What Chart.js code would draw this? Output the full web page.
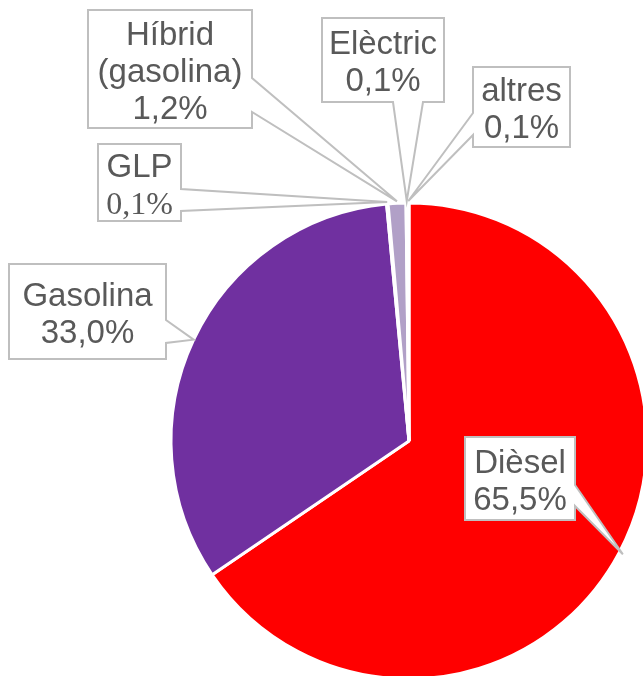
<!DOCTYPE html>
<html>
<head>
<meta charset="utf-8">
<script src="https://cdn.jsdelivr.net/npm/chart.js@4.4.1/dist/chart.umd.min.js"></script>
<style>
  html, body { margin: 0; background: #fff; overflow: hidden; }
  canvas { display: block; }
</style>
</head>
<body>
<canvas id="myChart" width="660" height="700"></canvas>
<script>
// data
const categories = ['Dièsel', 'Gasolina', 'GLP', 'Híbrid (gasolina)', 'Elèctric', 'altres'];
const shares = [65.5, 33.0, 0.1, 1.2, 0.1, 0.1]; // %
const sliceColors = ['#ff0000', '#7030a0', '#a5a5a5', '#b1a0c7', '#4bacc6', '#f79646'];
const labelLines = [['Dièsel'], ['Gasolina'], ['GLP'], ['Híbrid', '(gasolina)'], ['Elèctric'], ['altres']];

// callout boxes (x, y, w, h, side where the pointer leaves, pointer base p0..p1, tip offset)
const callouts = [
    { x: 465, y: 437, w: 110, h: 83, side: 'right', p0: 485, p1: 506, off: 4 },
    { x: 9, y: 264, w: 157, h: 95, side: 'right', p0: 320, p1: 343, off: 0 },
    { x: 98, y: 144, w: 83, h: 77, side: 'right', p0: 189, p1: 211, off: 2, serifValue: true },
    { x: 88, y: 10, w: 164, h: 118, side: 'right', p0: 78, p1: 112, off: 2 },
    { x: 322, y: 18, w: 122, h: 84, side: 'bottom', p0: 393, p1: 423, off: 2 },
    { x: 473, y: 67, w: 97, h: 80, side: 'left', p0: 113, p1: 135, off: 2 }
];

function fmtPct(v) {
    return v.toFixed(1).replace('.', ',') + '%';
}

function calloutPath(ctx, b, tip) {
    const L = b.x, T = b.y, R = b.x + b.w, B = b.y + b.h;
    ctx.beginPath();
    ctx.moveTo(L, T);
    if (b.side === 'top') { ctx.lineTo(b.p0, T); ctx.lineTo(tip.x, tip.y); ctx.lineTo(b.p1, T); }
    ctx.lineTo(R, T);
    if (b.side === 'right') { ctx.lineTo(R, b.p0); ctx.lineTo(tip.x, tip.y); ctx.lineTo(R, b.p1); }
    ctx.lineTo(R, B);
    if (b.side === 'bottom') { ctx.lineTo(b.p1, B); ctx.lineTo(tip.x, tip.y); ctx.lineTo(b.p0, B); }
    ctx.lineTo(L, B);
    if (b.side === 'left') { ctx.lineTo(L, b.p1); ctx.lineTo(tip.x, tip.y); ctx.lineTo(L, b.p0); }
    ctx.closePath();
}

const calloutPlugin = {
    id: 'callouts',
    afterDatasetsDraw(chart) {
        const ctx = chart.ctx;
        const meta = chart.getDatasetMeta(0);
        const fs = 33, lh = 37;
        ctx.save();
        meta.data.forEach((arc, i) => {
            const b = callouts[i];
            const p = arc.getProps(['x', 'y', 'startAngle', 'endAngle', 'outerRadius'], true);
            const mid = (p.startAngle + p.endAngle) / 2;
            const r = p.outerRadius + b.off;
            const tip = { x: p.x + Math.cos(mid) * r, y: p.y + Math.sin(mid) * r };

            calloutPath(ctx, b, tip);
            ctx.fillStyle = '#ffffff';
            ctx.fill();
            ctx.strokeStyle = '#bfbfbf';
            ctx.lineWidth = 2;
            ctx.lineJoin = 'miter';
            ctx.stroke();

            const lines = labelLines[i].concat([fmtPct(chart.data.datasets[0].data[i])]);
            const cx = b.x + b.w / 2;
            const cy = b.y + b.h / 2 + 1;
            ctx.fillStyle = '#595959';
            ctx.textAlign = 'center';
            ctx.textBaseline = 'alphabetic';
            lines.forEach((t, k) => {
                const isValue = k === lines.length - 1;
                const size = (isValue && b.serifValue) ? 32 : fs;
                ctx.font = (isValue && b.serifValue ? size + 'px "Liberation Serif", "Times New Roman", serif'
                                                    : size + 'px "Liberation Sans", Arial, sans-serif');
                const base = cy + (k - (lines.length - 1) / 2) * lh + 0.355 * fs;
                ctx.fillText(t, cx, base);
            });
        });
        ctx.restore();
    }
};

const ctx = document.getElementById('myChart').getContext('2d');

const myChart = new Chart(ctx, {
    type: 'pie',
    data: {
        labels: categories,
        datasets: [{
            data: shares,
            backgroundColor: sliceColors,
            borderColor: '#ffffff',
            borderWidth: 3
        }]
    },
    options: {
        responsive: false,
        animation: false,
        radius: 238,
        layout: { padding: { left: 168, top: 201, right: 10, bottom: 19 } },
        plugins: {
            legend: { display: false },
            tooltip: { enabled: false }
        }
    },
    plugins: [calloutPlugin]
});
</script>
</body>
</html>
